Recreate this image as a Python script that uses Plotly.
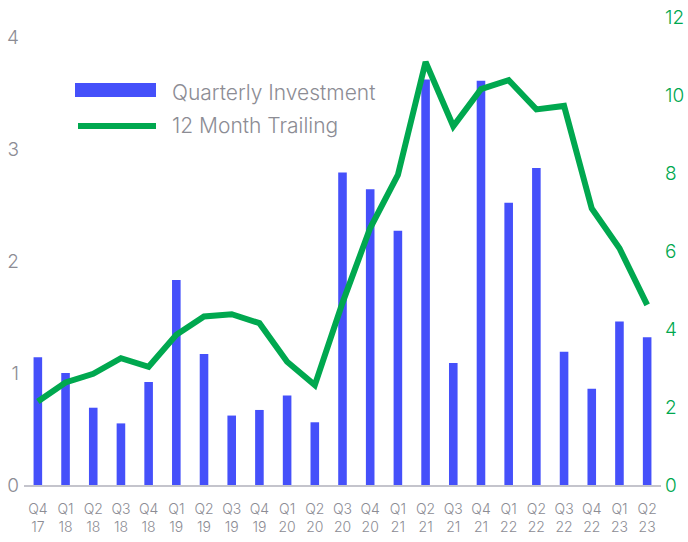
import plotly.graph_objs as go

quarters = ['Q4<br>17', 'Q1<br>18', 'Q2<br>18', 'Q3<br>18', 'Q4<br>18',
            'Q1<br>19', 'Q2<br>19', 'Q3<br>19', 'Q4<br>19',
            'Q1<br>20', 'Q2<br>20', 'Q3<br>20', 'Q4<br>20',
            'Q1<br>21', 'Q2<br>21', 'Q3<br>21', 'Q4<br>21',
            'Q1<br>22', 'Q2<br>22', 'Q3<br>22', 'Q4<br>22',
            'Q1<br>23', 'Q2<br>23']

quarterly = [1.14, 1.00, 0.69, 0.55, 0.92, 1.83, 1.17, 0.62, 0.67, 0.80, 0.56,
             2.79, 2.64, 2.27, 3.62, 1.09, 3.61, 2.52, 2.83, 1.19, 0.86, 1.46, 1.32]

trailing = [2.14, 2.63, 2.85, 3.25, 3.03, 3.85, 4.32, 4.38, 4.15, 3.16, 2.56,
            4.67, 6.59, 7.95, 10.85, 9.20, 10.15, 10.38, 9.63, 9.72, 7.09, 6.07, 4.62]

left_ticks = [0, 1, 2, 3, 4]
right_ticks = [0, 2, 4, 6, 8, 10, 12]

blue = '#4550fa'
green = '#00a84f'
grey = '#8c8c94'
font_family = 'Inter'

data = [
    go.Bar(x=quarters, y=quarterly, name='Quarterly Investment',
           marker=dict(color=blue, line=dict(width=0)), width=0.31, yaxis='y'),
    go.Scatter(x=quarters, y=trailing, name='12 Month Trailing', mode='lines',
               line=dict(color=green, width=6), yaxis='y2'),
]

fig = go.Figure(data=data)

fig.update_layout(
    width=688, height=542,
    margin=dict(l=24, r=27, t=17, b=57),
    paper_bgcolor='white', plot_bgcolor='white',
    showlegend=False,
    font=dict(family=font_family, color=grey),
    xaxis=dict(type='category', range=[-0.5, 22.5], showgrid=False, automargin=False,
               showline=True, linecolor='#c4c4cc', linewidth=1.5,
               ticks='', tickfont=dict(size=14, color=grey, weight=300),
               ticklabelstandoff=10),
    yaxis=dict(range=[0, 468 / 112], tickvals=left_ticks, showgrid=False, automargin=False,
               zeroline=False, ticks='', tickfont=dict(size=19, color=grey, weight=300),
               ticklabelstandoff=4),
    yaxis2=dict(range=[0, 12], tickvals=right_ticks, overlaying='y', side='right',
                showgrid=False, zeroline=False, ticks='', automargin=False,
                tickfont=dict(size=19, color=green, weight=300),
                ticklabelstandoff=3),
)

# hand drawn legend, the chart's legend uses long swatches
fig.add_shape(type='rect', xref='paper', yref='paper',
              x0=(75 - 24) / 637, x1=(156 - 24) / 637,
              y0=(485 - 97) / 468, y1=(485 - 83) / 468,
              fillcolor=blue, line=dict(width=0))
fig.add_shape(type='line', xref='paper', yref='paper',
              x0=(78 - 24) / 637, x1=(156 - 24) / 637,
              y0=(485 - 126) / 468, y1=(485 - 126) / 468,
              line=dict(color=green, width=6))
fig.add_annotation(text='Quarterly Investment', xref='paper', yref='paper',
                   x=(170 - 24) / 637, y=(485 - 92) / 468, xanchor='left', yanchor='middle',
                   showarrow=False, font=dict(size=21, color=grey, weight=300))
fig.add_annotation(text='12 Month Trailing', xref='paper', yref='paper',
                   x=(170 - 24) / 637, y=(485 - 126) / 468, xanchor='left', yanchor='middle',
                   showarrow=False, font=dict(size=21, color=grey, weight=300))

# drop the browser's default 8px body margin so the figure sits at the window corner
fig.write_html("out.html", config={'displayModeBar': False},
               post_script="document.body.style.margin='0';"
                           "document.documentElement.style.overflow='hidden';")
